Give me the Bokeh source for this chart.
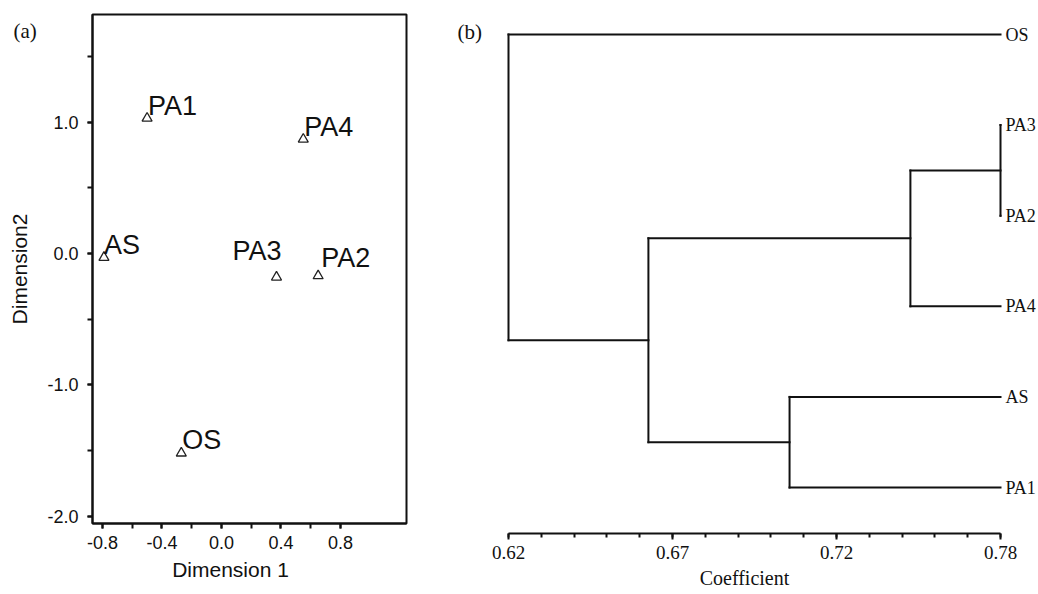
import math
import numpy as np
from bokeh.plotting import figure
from bokeh.models import (FixedTicker, Label, ColumnDataSource, Range1d,
                          PrintfTickFormatter, CustomJSTickFormatter)
from bokeh.layouts import row
from bokeh.embed import file_html
from bokeh.resources import INLINE
from bokeh.core.properties import value

# ---------------- data: panel (a) MDS plot ----------------
mds_names = ["PA1", "PA4", "AS", "PA3", "PA2", "OS"]
mds_dim1 = [-0.50, 0.55, -0.79, 0.37, 0.65, -0.27]
mds_dim2 = [1.03, 0.87, -0.03, -0.18, -0.17, -1.52]
x_ticks_a = [-0.8, -0.4, 0.0, 0.4, 0.8]
y_ticks_a = [-2.0, -1.0, 0.0, 1.0]

# ---------------- data: panel (b) dendrogram ----------------
leaf_order = ["OS", "PA3", "PA2", "PA4", "AS", "PA1"]          # top to bottom
merge_left = ["PA3", "M1", "AS", "M2", "OS"]
merge_right = ["PA2", "PA4", "PA1", "M3", "M4"]
merge_coef = [0.780, 0.7507, 0.7114, 0.6655, 0.620]
coef_ticks = [0.62, 0.62 + 0.16 / 3, 0.62 + 0.32 / 3, 0.78]
coef_tick_labels = ["0.62", "0.67", "0.72", "0.78"]

# ---------------- styles ----------------
SANS = "Liberation Sans"
SERIF = "Liberation Serif"
INK = "#111111"
label_dx = [1, 1, 0, -44, 3, 1]       # px, text offset from marker
label_dy = [-12, -12, -12, -26, -18, -13]

# ================= panel (a) =================
p1 = figure(frame_width=314, frame_height=509, title=None,
            x_range=Range1d(-0.867, 1.244), y_range=Range1d(-2.056, 1.82),
            min_border_left=92, min_border_right=44, min_border_top=14, min_border_bottom=71,
            output_backend="svg", toolbar_location=None)
p1.grid.visible = False
p1.outline_line_color = INK
p1.outline_line_width = 2
p1.background_fill_color = "white"
p1.border_fill_color = "white"

for ax in (p1.xaxis[0], p1.yaxis[0]):
    ax.axis_line_width = 2
    ax.axis_line_color = INK
    ax.major_tick_line_width = 2
    ax.minor_tick_line_width = 2
    ax.major_tick_line_color = INK
    ax.minor_tick_line_color = INK
    ax.major_tick_in = 0
    ax.major_tick_out = 5
    ax.minor_tick_in = 0
    ax.minor_tick_out = 5
    ax.major_label_text_font = SANS
    ax.major_label_text_font_size = "18px"
    ax.major_label_text_color = INK
    ax.formatter = PrintfTickFormatter(format="%.1f")
    ax.axis_label_text_font = SANS
    ax.axis_label_text_font_size = "21px"
    ax.axis_label_text_font_style = "normal"
    ax.axis_label_text_color = INK

p1.xaxis.ticker = FixedTicker(ticks=x_ticks_a,
                              minor_ticks=[-0.8, -0.6, -0.4, -0.2, 0.0, 0.2, 0.4, 0.6, 0.8])
p1.yaxis.ticker = FixedTicker(ticks=y_ticks_a,
                              minor_ticks=[-2.0, -1.5, -1.0, -0.5, 0.0, 0.5, 1.0, 1.5])
p1.xaxis.major_label_standoff = 7
p1.yaxis.major_label_standoff = 9
p1.yaxis.axis_label = "Dimension2"
p1.yaxis.axis_label_standoff = 13

src_a = ColumnDataSource(dict(x=mds_dim1, y=mds_dim2, name=mds_names,
                              dx=label_dx, dy=label_dy))
p1.scatter("x", "y", source=src_a, marker="triangle", size=10,
           fill_color=None, line_color="#222222", line_width=1.3)
p1.text("x", "y", text="name", source=src_a, x_offset="dx", y_offset="dy",
        text_font=value(SANS), text_font_size="27px", text_color=INK,
        text_align="left", text_baseline="alphabetic")

# panel letter, hosted in the right side panel (which has spare room) and
# shifted back to the top-left corner of the figure
p1.add_layout(Label(x=-393, y=493, x_units="screen", y_units="screen", text="(a)",
                    text_font=SERIF, text_font_size="21px", text_color=INK,
                    text_align="left", text_baseline="middle"), "right")

# x-axis title, placed a little left of the frame centre as in the original
p1.add_layout(Label(x=138, y=5, x_units="screen", y_units="screen", text="Dimension 1",
                    text_font=SANS, text_font_size="21px", text_color=INK,
                    text_align="center", text_baseline="middle"), "below")

# ================= panel (b) =================
p2 = figure(frame_width=588, frame_height=519, title=None,
            x_range=Range1d(0.62 - 58 / 3075, 0.62 + 530 / 3075),
            y_range=Range1d(-46 / 90.6, 5 + 20 / 90.6),
            min_border_left=0, min_border_right=0, min_border_top=14, min_border_bottom=61,
            y_axis_location=None,
            output_backend="svg", toolbar_location=None)
p2.grid.visible = False
p2.outline_line_color = None
p2.background_fill_color = "white"
p2.border_fill_color = "white"

xa = p2.xaxis[0]
xa.bounds = (0.62, 0.78)
xa.ticker = FixedTicker(ticks=coef_ticks, minor_ticks=list(np.linspace(0.62, 0.78, 16)))
xa.formatter = CustomJSTickFormatter(args=dict(labels=coef_tick_labels),
                                     code="return labels[index];")
xa.axis_line_width = 2
xa.axis_line_color = INK
xa.major_tick_line_width = 2
xa.minor_tick_line_width = 2
xa.major_tick_line_color = INK
xa.minor_tick_line_color = INK
xa.major_tick_in = 0
xa.major_tick_out = 6
xa.minor_tick_in = 0
xa.minor_tick_out = 4
xa.major_label_standoff = 6
xa.major_label_text_font = SERIF
xa.major_label_text_font_size = "19px"
xa.major_label_text_color = INK
xa.axis_label = "Coefficient"
xa.axis_label_standoff = 5
xa.axis_label_text_font = SERIF
xa.axis_label_text_font_size = "20px"
xa.axis_label_text_font_style = "normal"
xa.axis_label_text_color = INK

# dendrogram geometry from the merge table
n = len(leaf_order)
ypos = {name: float(n - 1 - i) for i, name in enumerate(leaf_order)}
xpos = {name: max(merge_coef) for name in leaf_order}
x0s, y0s, x1s, y1s = [], [], [], []
for k, (a, b, c) in enumerate(zip(merge_left, merge_right, merge_coef)):
    for child in (a, b):
        x0s.append(xpos[child]); y0s.append(ypos[child])
        x1s.append(c); y1s.append(ypos[child])
    x0s.append(c); y0s.append(ypos[a]); x1s.append(c); y1s.append(ypos[b])
    node = "M%d" % (k + 1)
    ypos[node] = (ypos[a] + ypos[b]) / 2.0
    xpos[node] = c

p2.segment(x0s, y0s, x1s, y1s, line_color=INK, line_width=2, line_cap="square")

src_b = ColumnDataSource(dict(x=[xpos[nm] for nm in leaf_order],
                              y=[ypos[nm] for nm in leaf_order],
                              name=leaf_order))
p2.text("x", "y", text="name", source=src_b, x_offset=5,
        text_font=value(SERIF), text_font_size="18px", text_color=INK,
        text_align="left", text_baseline="middle")

# panel letter inside the (widened) frame
p2.add_layout(Label(x=7, y=502, x_units="screen", y_units="screen", text="(b)",
                    text_font=SERIF, text_font_size="21px", text_color=INK,
                    text_align="left", text_baseline="middle"))

layout = row(p1, p2)
open("out.html", "w").write(file_html(layout, INLINE))
